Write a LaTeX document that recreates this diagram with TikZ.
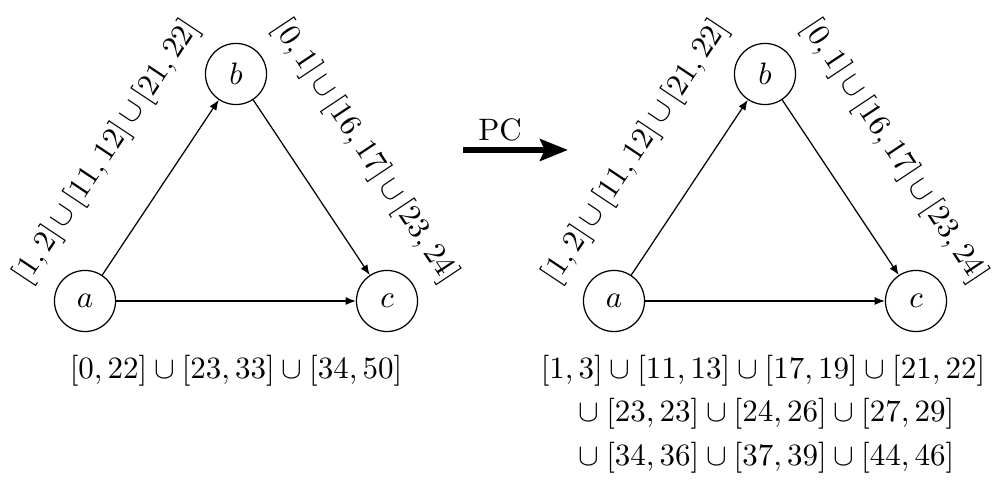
\documentclass[tikz,border=0pt]{standalone}
\usetikzlibrary{arrows.meta}
\newcommand{\tcup}{\mskip3mu\mathord{\cup}\mskip3mu}
\begin{document}
\begin{tikzpicture}[x=0.32258pt,y=0.32258pt,
  vert/.style={draw,circle,minimum size=19.7pt,inner sep=0pt},
  edge/.style={-{Latex[length=3.3pt,width=2.6pt]}},
  elab/.style={sloped,above,outer sep=12.5pt}]
\useasboundingbox (0,0) rectangle (993,481);
% left graph
\node[vert] (a1) at (85,180) {$a$};
\node[vert] (b1) at (236,407) {$b$};
\node[vert] (c1) at (387,180) {$c$};
\draw[edge] (a1) -- node[elab] {$[1,2]\tcup[11,12]\tcup[21,22]$} (b1);
\draw[edge] (b1) -- node[elab] {$[0,1]\tcup[16,17]\tcup[23,24]$} (c1);
\draw[edge] (a1) -- (c1);
\node (l1) at (236,110) {$[0,22]\cup[23,33]\cup[34,50]$};
% right graph
\node[vert] (a2) at (614,180) {$a$};
\node[vert] (b2) at (765,407) {$b$};
\node[vert] (c2) at (916,180) {$c$};
\draw[edge] (a2) -- node[elab] {$[1,2]\tcup[11,12]\tcup[21,22]$} (b2);
\draw[edge] (b2) -- node[elab] {$[0,1]\tcup[16,17]\tcup[23,24]$} (c2);
\draw[edge] (a2) -- (c2);
\node[align=center] (l2) at (763,67) {$[1,3]\cup[11,13]\cup[17,19]\cup[21,22]$\\[2pt]
  ${}\cup[23,23]\cup[24,26]\cup[27,29]$\\[2pt]
  ${}\cup[34,36]\cup[37,39]\cup[44,46]$};
% PC arrow
\coordinate (p0) at (463,331);
\coordinate (p1) at (568,331);
\draw[line width=2.2pt,-{Stealth[length=9pt,width=7pt,inset=1.5pt]}] (p0) -- (p1);
\node (pc) at (500,351) {PC};
\end{tikzpicture}
\end{document}
